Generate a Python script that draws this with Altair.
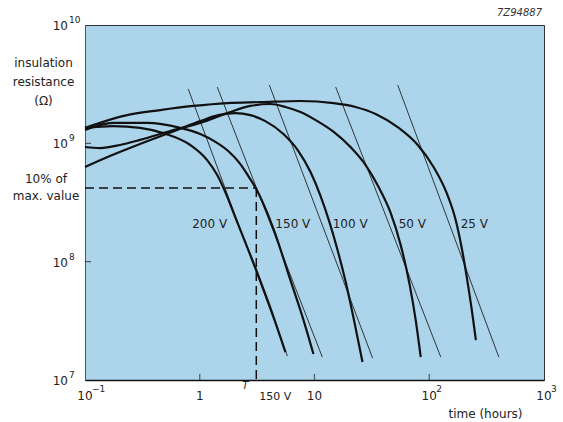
import altair as alt
import pandas as pd

FONT = "DejaVu Sans"
INK = "#222"

# axis ranges
x_domain = [0.1, 1000]
y_domain = [1e7, 1e10]

# thick curves: time (hours) / insulation resistance (ohm)
t_200 = [0.1, 0.176, 0.302, 0.480, 0.827, 1.16, 1.42, 1.67, 1.96, 2.45, 3.18, 4.13, 5.58]
r_200 = [1.35e9, 1.40e9, 1.35e9, 1.22e9, 9.68e8, 7.22e8, 5.40e8, 3.87e8, 2.62e8, 1.52e8, 8.01e7, 4.05e7, 1.72e7]

t_150 = [0.1, 0.176, 0.348, 0.676, 1.01, 1.37, 1.77, 2.26, 2.65, 3.11, 3.66, 4.39, 6.17, 8.02, 9.79]
r_150 = [1.30e9, 1.49e9, 1.49e9, 1.35e9, 1.20e9, 1.03e9, 8.61e8, 6.68e8, 5.29e8, 4.11e8, 2.95e8, 1.89e8, 6.98e7, 3.21e7, 1.66e7]

t_100 = [0.1, 0.165, 0.321, 0.636, 1.01, 1.45, 2.04, 2.76, 3.73, 5.36, 7.24, 9.23, 11.3, 13.5, 15.9, 18.7, 21.9, 26.2]
r_100 = [6.31e8, 7.81e8, 1.01e9, 1.30e9, 1.54e9, 1.73e9, 1.80e9, 1.73e9, 1.54e9, 1.20e9, 8.61e8, 5.72e8, 3.58e8, 2.16e8, 1.25e8, 6.73e7, 3.34e7, 1.42e7]

t_50 = [0.1, 0.135, 0.202, 0.302, 0.552, 1.01, 1.74, 2.76, 4.13, 5.58, 7.55, 10.6, 14.7, 20.6, 27.9, 36.2, 46.1, 56.4, 67.6, 76.2, 84.3]
r_50 = [9.31e8, 9.12e8, 9.68e8, 1.07e9, 1.27e9, 1.49e9, 1.80e9, 2.07e9, 2.15e9, 2.03e9, 1.84e9, 1.54e9, 1.25e9, 9.31e8, 6.55e8, 4.27e8, 2.58e8, 1.38e8, 6.34e7, 3.21e7, 1.56e7]

t_25 = [0.1, 0.135, 0.233, 0.452, 0.877, 1.74, 3.37, 7.55, 14.7, 22.8, 34.1, 53.1, 79.4, 109, 142, 170, 192, 213, 235, 255]
r_25 = [1.35e9, 1.49e9, 1.73e9, 1.91e9, 2.07e9, 2.19e9, 2.23e9, 2.28e9, 2.19e9, 2.03e9, 1.77e9, 1.37e9, 9.68e8, 6.31e8, 3.80e8, 2.25e8, 1.30e8, 7.27e7, 3.90e7, 2.17e7]

# thin tangent lines
tan_t0 = [0.794, 1.42, 4.04, 15.3, 53.1]
tan_r0 = [2.88e9, 2.99e9, 3.11e9, 2.99e9, 3.11e9]
tan_t1 = [5.81, 11.7, 32.1, 126, 404]
tan_r1 = [1.59e7, 1.56e7, 1.53e7, 1.56e7, 1.56e7]

# voltage labels
label_names = ["200 V", "150 V", "100 V", "50 V", "25 V"]
label_t = [0.859, 4.56, 14.4, 54.2, 188]
label_r = 2.08e8

# 10 % of max value and T150V
ten_pct = 4.19e8
t150 = 3.11

# figure code
fig_code = "7Z94887"

# ticks and tick labels
x_ticks = [1, 10, 100]
y_ticks = [1e8, 1e9]
x_label_vals = [0.1, 1, 10, 100, 1000]
x_label_base = ["10", "1", "10", "10", "10"]
x_label_exp = ["\u22121", "", "", "2", "3"]
y_label_vals = [1e10, 1e9, 1e8, 1e7]
y_label_exp = ["10", "9", "8", "7"]

curves = pd.concat([
    pd.DataFrame({"t": t_200, "r": r_200, "v": "200 V"}),
    pd.DataFrame({"t": t_150, "r": r_150, "v": "150 V"}),
    pd.DataFrame({"t": t_100, "r": r_100, "v": "100 V"}),
    pd.DataFrame({"t": t_50, "r": r_50, "v": "50 V"}),
    pd.DataFrame({"t": t_25, "r": r_25, "v": "25 V"}),
], ignore_index=True)

tangents = pd.DataFrame({"t": tan_t0, "r": tan_r0, "t2": tan_t1, "r2": tan_r1})
dashed = pd.DataFrame({"t": [x_domain[0], t150], "r": [ten_pct, ten_pct],
                       "t2": [t150, t150], "r2": [ten_pct, y_domain[0]]})
labels = pd.DataFrame({"t": label_t, "r": [label_r] * len(label_t), "txt": label_names})
xt = pd.DataFrame({"t": x_ticks, "r": [y_domain[0]] * len(x_ticks)})
yt = pd.DataFrame({"t": [x_domain[0]] * len(y_ticks), "r": y_ticks})
xl = pd.DataFrame({"t": x_label_vals, "r": [y_domain[0]] * len(x_label_vals),
                   "base": x_label_base, "exp": x_label_exp})
yl = pd.DataFrame({"t": [x_domain[0]] * len(y_label_vals), "r": y_label_vals,
                   "base": ["10"] * len(y_label_vals), "exp": y_label_exp})
pct = pd.DataFrame({"t": [x_domain[0]], "r": [ten_pct], "txt": ["10% of\nmax. value"]})
tsym = pd.DataFrame({"t": [t150], "r": [y_domain[0]], "a": ["T"], "b": ["150 V"]})
code = pd.DataFrame({"t": [x_domain[1]], "r": [y_domain[1]], "txt": [fig_code]})

xs = alt.Scale(type="log", domain=x_domain)
ys = alt.Scale(type="log", domain=y_domain)

xaxis = alt.Axis(labels=False, ticks=False, grid=False, domain=True, domainColor="#111",
                 domainWidth=1.5, title="time (hours)", titleX=400, titleY=33,
                 titleAlign="center", titleBaseline="middle", titleFont=FONT,
                 titleFontSize=12, titleFontWeight="normal", titleColor=INK)
yaxis = alt.Axis(labels=False, ticks=False, grid=False, domain=True, domainColor="#555",
                 domainWidth=1, title=["insulation", "resistance", "(\u03a9)"], titleAngle=0,
                 titleX=-42, titleY=37, titleAlign="center", titleBaseline="middle",
                 titleLineHeight=19, titleFont=FONT, titleFontSize=12,
                 titleFontWeight="normal", titleColor=INK)


def X(f="t"):
    return alt.X(f + ":Q", scale=xs, axis=xaxis)


def Y(f="r"):
    return alt.Y(f + ":Q", scale=ys, axis=yaxis)


dash_layer = alt.Chart(dashed).mark_rule(color="#111", strokeWidth=1.5, strokeDash=[9, 5]).encode(
    x=X(), y=Y(), x2="t2:Q", y2="r2:Q")
tan_layer = alt.Chart(tangents).mark_rule(color="#222", strokeWidth=0.9).encode(
    x=X(), y=Y(), x2="t2:Q", y2="r2:Q")
curve_layer = alt.Chart(curves).mark_line(color="#111", strokeWidth=2.2, interpolate="monotone").encode(
    x=X(), y=Y(), detail="v:N")
xtick_layer = alt.Chart(xt).mark_tick(orient="vertical", size=6, thickness=1.2, color="#222",
                                      yOffset=-3).encode(x=X(), y=Y())
ytick_layer = alt.Chart(yt).mark_tick(orient="horizontal", size=6, thickness=1.2, color="#222",
                                      xOffset=3).encode(x=X(), y=Y())
label_layer = alt.Chart(labels).mark_text(align="left", baseline="middle", font=FONT,
                                          fontSize=12, color=INK).encode(x=X(), y=Y(), text="txt:N")
xl_base = alt.Chart(xl).mark_text(align="center", baseline="middle", font=FONT, fontSize=12,
                                  color=INK, dy=16).encode(x=X(), y=Y(), text="base:N")
xl_exp = alt.Chart(xl).mark_text(align="left", baseline="middle", font=FONT, fontSize=9,
                                 color=INK, dx=7, dy=9).encode(x=X(), y=Y(), text="exp:N")
yl_base = alt.Chart(yl).mark_text(align="right", baseline="middle", font=FONT, fontSize=12,
                                  color=INK, dx=-17, dy=1).encode(x=X(), y=Y(), text="base:N")
yl_exp = alt.Chart(yl).mark_text(align="left", baseline="middle", font=FONT, fontSize=9,
                                 color=INK, dx=-16, dy=-5).encode(x=X(), y=Y(), text="exp:N")
pct_layer = alt.Chart(pct).mark_text(align="center", baseline="middle", font=FONT, fontSize=12,
                                     color=INK, lineBreak="\n", lineHeight=17, dx=-39, dy=-9).encode(
    x=X(), y=Y(), text="txt:N")
t_layer = alt.Chart(tsym).mark_text(align="center", baseline="middle", font=FONT, fontSize=10,
                                    fontStyle="italic", color=INK, dx=-11, dy=6).encode(
    x=X(), y=Y(), text="a:N")
t2_layer = alt.Chart(tsym).mark_text(align="center", baseline="middle", font=FONT, fontSize=11,
                                     color=INK, dx=19, dy=17).encode(x=X(), y=Y(), text="b:N")
code_layer = alt.Chart(code).mark_text(align="right", baseline="middle", font=FONT, fontSize=10,
                                       fontStyle="italic", color="#333", dx=-2, dy=-12).encode(
    x=X(), y=Y(), text="txt:N")

chart = alt.layer(
    dash_layer, tan_layer, curve_layer, xtick_layer, ytick_layer, label_layer,
    xl_base, xl_exp, yl_base, yl_exp, pct_layer, t_layer, t2_layer, code_layer
).properties(
    width=459, height=355,
    autosize=alt.AutoSizeParams(type="none"),
    padding={"left": 85, "top": 25, "right": 19, "bottom": 42},
    background="white",
).configure_view(fill="#acd5ec", stroke="#333", strokeWidth=1)

chart.save("out.html", embed_options={"renderer": "svg", "actions": False})
